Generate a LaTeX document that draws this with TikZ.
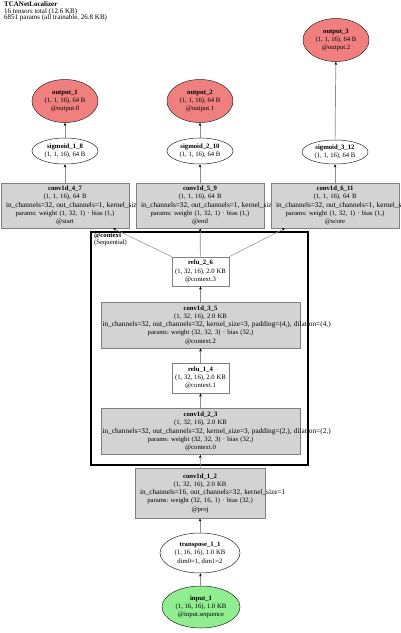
\documentclass[tikz,border=0pt]{standalone}
\usepackage{fontspec}
\setmainfont{Liberation Serif}
\usepackage{xcolor}
\usetikzlibrary{shapes.geometric, arrows.meta, positioning, calc}

\definecolor{boxfill}{HTML}{D3D3D3}
\definecolor{boxgray}{HTML}{808080}
\definecolor{edgegray}{HTML}{8C8C8C}
\definecolor{outred}{HTML}{F08080}
\definecolor{ingreen}{HTML}{90EE90}

% a line that runs out of its box on the right
\newcommand{\wideline}[1]{\makebox[\hsize][l]{\rlap{\fontsize{7.3}{8.3}\selectfont #1}}}

\frenchspacing

\begin{document}
\begin{tikzpicture}[x=1pt, y=-1pt,
    font=\fontsize{6.7}{8.3}\selectfont,
    opbox/.style={draw=boxgray, fill=boxfill, line width=0.6pt, inner xsep=5pt, inner ysep=0pt,
        minimum height=45pt, text width=118pt, align=center},
    widebox/.style={opbox, inner xsep=1.5pt, text width=196pt, minimum height=46pt},
    actbox/.style={draw=boxgray, fill=white, line width=0.6pt, minimum width=57pt,
        minimum height=29pt, inner sep=0pt, align=center},
    opell/.style={ellipse, draw=black!85, fill=white, line width=0.5pt, inner sep=0pt,
        minimum width=66pt, minimum height=26pt, align=center},
    outell/.style={opell, fill=outred, minimum height=43pt},
    flow/.style={draw=edgegray, line width=0.7pt, -{Stealth[length=3.2pt, width=2.6pt, color=black]}}
]
\useasboundingbox (0,0) rectangle (400,633);

% --- header ---
\node[anchor=north west, align=left, inner sep=0pt, font=\fontsize{7}{6.7}\selectfont] (title) at (4,1.5)
    {\textbf{TCANetLocalizer}\\16 tensors total (12.6 KB)\\6851 params (all trainable, 26.8 KB)};

% --- @context cluster ---
\draw[line width=2.6pt] (91,232) rectangle (308,465);
\node[anchor=north west, align=left, inner sep=0pt] (ctxlabel) at (94,233)
    {\textbf{@context}\\[-1.4pt](Sequential)};

% --- outputs (top) ---
\node[outell] (out1) at (65,101) {\textbf{output\_1}\\(1, 1, 16), 64 B\\@output.0};
\node[outell] (out2) at (200,101) {\textbf{output\_2}\\(1, 1, 16), 64 B\\@output.1};
\node[outell] (out3) at (336,40) {\textbf{output\_3}\\(1, 1, 16), 64 B\\@output.2};

\node[opell] (sig18) at (65,151) {\textbf{sigmoid\_1\_8}\\(1, 1, 16), 64 B};
\node[opell] (sig210) at (200,151) {\textbf{sigmoid\_2\_10}\\(1, 1, 16), 64 B};
\node[opell, minimum height=24pt] (sig312) at (335,152) {\textbf{sigmoid\_3\_12}\\(1, 1, 16), 64 B};

% --- heads ---
\node[opbox] (c47) at (65,205.5) {\textbf{conv1d\_4\_7}\\(1, 1, 16), 64 B\\
    \wideline{in\_channels=32, out\_channels=1, kernel\_size=1}\\
    params: weight (1, 32, 1) · bias (1,)\\@start};
\node[opbox] (c59) at (200,205.5) {\textbf{conv1d\_5\_9}\\(1, 1, 16), 64 B\\
    \wideline{in\_channels=32, out\_channels=1, kernel\_size=1}\\
    params: weight (1, 32, 1) · bias (1,)\\@end};
\node[opbox] (c611) at (335,205.5) {\textbf{conv1d\_6\_11}\\(1, 1, 16), 64 B\\
    \wideline{in\_channels=32, out\_channels=1, kernel\_size=1}\\
    params: weight (1, 32, 1) · bias (1,)\\@score};

% --- context body ---
\node[actbox] (relu26) at (200.5,271.5) {\textbf{relu\_2\_6}\\(1, 32, 16), 2.0 KB\\@context.3};
\node[widebox] (c35) at (200.5,325) {\textbf{conv1d\_3\_5}\\(1, 32, 16), 2.0 KB\\
    \wideline{in\_channels=32, out\_channels=32, kernel\_size=3, padding=(4,), dilation=(4,)}\\
    params: weight (32, 32, 3) · bias (32,)\\@context.2};
\node[actbox, minimum height=30pt] (relu14) at (200.5,378) {\textbf{relu\_1\_4}\\(1, 32, 16), 2.0 KB\\@context.1};
\node[widebox] (c23) at (200.5,431.5) {\textbf{conv1d\_2\_3}\\(1, 32, 16), 2.0 KB\\
    \wideline{in\_channels=32, out\_channels=32, kernel\_size=3, padding=(2,), dilation=(2,)}\\
    params: weight (32, 32, 3) · bias (32,)\\@context.0};

% --- input side ---
\node[opbox, text width=120pt, minimum height=50pt] (c12) at (200,493) {\textbf{conv1d\_1\_2}\\(1, 32, 16), 2.0 KB\\
    \wideline{in\_channels=16, out\_channels=32, kernel\_size=1}\\
    params: weight (32, 16, 1) · bias (32,)\\@proj};
\node[opell, minimum width=80pt, minimum height=40pt] (tr11) at (200,553) {\textbf{transpose\_1\_1}\\(1, 16, 16), 1.0 KB\\dim0=1, dim1=2};
\node[opell, fill=ingreen, minimum width=78pt, minimum height=42pt] (in1) at (201,607) {\textbf{input\_1}\\(1, 16, 16), 1.0 KB\\@input.sequence};

% --- edges ---
\coordinate (c47in) at ($(c47.south)+(48,0)$);
\coordinate (c611in) at ($(c611.south)+(-50,0)$);
\draw[flow] (in1) -- (tr11);
\draw[flow] (tr11) -- (c12);
\draw[flow] (c12) -- (c23);
\draw[flow] (c23) -- (relu14);
\draw[flow] (relu14) -- (c35);
\draw[flow] (c35) -- (relu26);
\draw[flow, line width=0.5pt] (relu26.north west) -- (c47in);
\draw[flow] (relu26) -- (c59);
\draw[flow, line width=0.5pt] (relu26.north east) -- (c611in);
\draw[flow] (c47) -- (sig18);
\draw[flow] (c59) -- (sig210);
\draw[flow] (c611) -- (sig312);
\draw[flow] (sig18) -- (out1);
\draw[flow] (sig210) -- (out2);
\draw[flow] (sig312) -- (out3);

\end{tikzpicture}
\end{document}
